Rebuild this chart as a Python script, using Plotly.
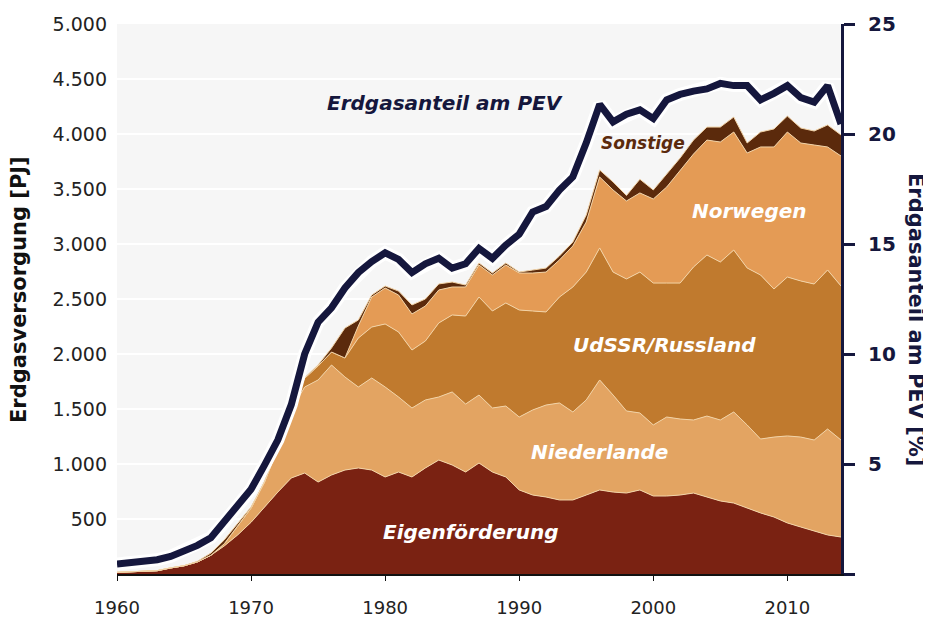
import plotly.graph_objects as go

years = list(range(1960, 2015))

eigen = [15, 18, 22, 30, 55, 75, 110, 170, 255, 355,
         470, 610, 745, 873, 918, 836, 900, 945, 964, 945,
         882, 927, 882, 964, 1036, 991, 927, 1009, 927, 882,
         764, 718, 700, 673, 673, 718, 764, 745, 736, 764,
         709, 709, 718, 736, 700, 664, 645, 600, 555, 518,
         464, 427, 391, 355, 336]

niederlande = [0, 0, 0, 0, 0, 0, 0, 0, 20, 80,
               130, 226, 400, 618, 782, 928, 1000, 846, 736, 837,
               818, 682, 627, 618, 573, 664, 618, 618, 582, 645,
               663, 773, 836, 882, 800, 864, 1000, 882, 746, 700,
               646, 718, 691, 664, 736, 736, 828, 755, 672, 727,
               791, 818, 827, 963, 882]

russland = [0, 0, 0, 0, 0, 0, 0, 0, 0, 0,
            0, 0, 0, 30, 80, 127, 118, 173, 445, 463,
            573, 591, 527, 536, 673, 700, 800, 891, 882, 937,
            973, 900, 846, 963, 1136, 1163, 1200, 1118, 1200, 1281,
            1290, 1218, 1236, 1391, 1464, 1436, 1472, 1427, 1491, 1346,
            1445, 1419, 1418, 1446, 1400]

norwegen = [0, 0, 0, 0, 0, 0, 0, 0, 0, 0,
            0, 0, 0, 0, 0, 0, 0, 0, 110, 273,
            327, 336, 328, 318, 300, 254, 264, 291, 327, 345,
            336, 345, 363, 337, 373, 455, 645, 746, 709, 719,
            764, 873, 1019, 1027, 1045, 1091, 1073, 1045, 1164, 1291,
            1318, 1254, 1264, 1118, 1182]

sonstige = [0, 0, 0, 0, 0, 0, 5, 20, 35, 30,
            10, 0, 0, 0, 5, 10, 36, 272, 54, 18,
            18, 36, 82, 64, 55, 45, 18, 18, 18, 18,
            9, 27, 36, 36, 36, 64, 64, 73, 50, 125,
            82, 118, 118, 127, 118, 136, 136, 91, 136, 164,
            145, 136, 127, 200, 191]

pev_anteil = [0.45, 0.5, 0.55, 0.65, 0.8, 1.05, 1.3, 1.65, 2.35, 3.1,
              3.85, 4.95, 6.1, 7.7, 10.0, 11.45, 12.1, 13.0, 13.7, 14.2,
              14.6, 14.3, 13.7, 14.1, 14.35, 13.9, 14.1, 14.8, 14.35, 14.95,
              15.45, 16.45, 16.7, 17.45, 18.05, 19.6, 21.35, 20.55, 20.9, 21.1,
              20.7, 21.55, 21.8, 21.95, 22.05, 22.3, 22.2, 22.2, 21.55, 21.85,
              22.2, 21.65, 21.45, 22.2, 20.45]

left_ticks = [500, 1000, 1500, 2000, 2500, 3000, 3500, 4000, 4500, 5000]
left_ticktext = ["500", "1.000", "1.500", "2.000", "2.500", "3.000", "3.500", "4.000", "4.500", "5.000"]
right_ticks = [0, 5, 10, 15, 20, 25]
right_ticktext = ["", "5", "10", "15", "20", "25"]
x_ticks = [1960, 1970, 1980, 1990, 2000, 2010]

FONT = "DejaVu Sans"
NAVY = "#15173d"
EDGE = "#f2d3a6"

series = [
    ("Eigenförderung", eigen, "#7a2212"),
    ("Niederlande", niederlande, "#e3a462"),
    ("UdSSR/Russland", russland, "#c07a2e"),
    ("Norwegen", norwegen, "#e49b55"),
    ("Sonstige", sonstige, "#5b2a0c"),
]

fig = go.Figure()
for name, vals, col in series:
    fig.add_trace(go.Scatter(
        x=years, y=vals, name=name, stackgroup="one", mode="lines",
        line=dict(color=EDGE, width=1), fillcolor=col, showlegend=False,
    ))

fig.add_trace(go.Scatter(x=years, y=pev_anteil, yaxis="y2", mode="lines",
                         line=dict(color="#ffffff", width=13), showlegend=False))
fig.add_trace(go.Scatter(x=years, y=pev_anteil, yaxis="y2", mode="lines",
                         line=dict(color=NAVY, width=7), showlegend=False))

# page has an 8px body margin: figure is 923x609 placed at (8,8)
fig.update_layout(
    width=923, height=609,
    margin=dict(l=109, r=90, t=16, b=43, autoexpand=False),
    paper_bgcolor="white", plot_bgcolor="#f6f6f6",
    font=dict(family=FONT, color="#222222"),
    xaxis=dict(range=[1960, 2014], tickvals=x_ticks, ticks="outside", ticklen=5,
               tickcolor="#111111", showline=True, linecolor="#111111", linewidth=2,
               showgrid=False, zeroline=False, tickfont=dict(size=18, color="#222222"),
               ticklabelstandoff=11, automargin=False),
    yaxis=dict(range=[0, 5000], tickvals=left_ticks, ticktext=left_ticktext,
               showgrid=True, gridcolor="#ffffff", gridwidth=2, zeroline=False,
               showline=False, ticks="", tickfont=dict(size=19, color="#222222"),
               ticklabelstandoff=9, automargin=False),
    yaxis2=dict(range=[0, 25], overlaying="y", side="right", tickvals=right_ticks,
                ticktext=right_ticktext, showgrid=False, zeroline=False,
                showline=True, linecolor=NAVY, linewidth=3, ticks="outside",
                ticklen=11, tickwidth=3, tickcolor=NAVY,
                tickfont=dict(size=20, color=NAVY, weight="bold"),
                ticklabelstandoff=9, automargin=False),
)

labels = [
    ("Erdgasanteil am PEV", 1984.5, 4282, NAVY, 20),
    ("Sonstige", 1999.25, 3918, "#5b2a0c", 17),
    ("Norwegen", 2007.2, 3300, "#ffffff", 20),
    ("UdSSR/Russland", 2000.8, 2082, "#ffffff", 20),
    ("Niederlande", 1996.0, 1109, "#ffffff", 20),
    ("Eigenförderung", 1986.4, 382, "#ffffff", 20),
]
for txt, xv, yv, col, sz in labels:
    fig.add_annotation(x=xv, y=yv, xref="x", yref="y", text=txt, showarrow=False,
                       font=dict(family=FONT, size=sz, color=col, weight="bold", style="italic"))

fig.add_annotation(x=(19 - 117) / 724.0, y=(574 - 290) / 550.0, xref="paper", yref="paper",
                   xanchor="center", yanchor="middle",
                   text="Erdgasversorgung [PJ]", showarrow=False, textangle=-90,
                   font=dict(family=FONT, size=21, color="#111111", weight="bold"))

fig.add_annotation(x=1.0 + (916 - 841) / 724.0, y=(574 - 319) / 550.0, xref="paper", yref="paper",
                   xanchor="center", yanchor="middle",
                   text="Erdgasanteil am PEV [%]", showarrow=False, textangle=90,
                   font=dict(family=FONT, size=21, color=NAVY, weight="bold"))

fig.write_html("out.html")
